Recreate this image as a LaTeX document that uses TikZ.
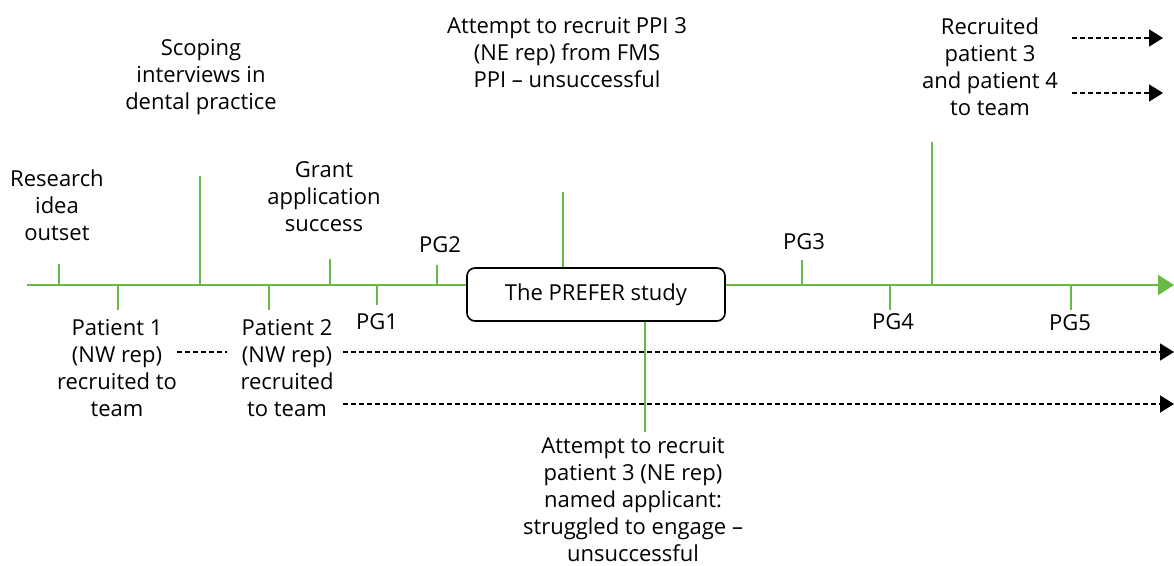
\documentclass[tikz,border=0pt]{standalone}
\usepackage{fontspec}
\setmainfont{Open Sans}
\usetikzlibrary{arrows.meta}
\definecolor{tlgreen}{RGB}{104,186,70}
\tikzset{
  lbl/.style={inner sep=0pt, align=center, font=\fontsize{22}{27}\selectfont},
  tick/.style={draw=tlgreen, line width=2pt},
  dashar/.style={draw=black, line width=1.6pt, dash pattern=on 5pt off 3pt, -{Triangle[length=14pt,width=17pt]}},
  dashln/.style={draw=black, line width=1.6pt, dash pattern=on 5pt off 3pt},
  studybox/.style={draw=black, line width=1.6pt, rounded corners=8pt, minimum width=258pt, minimum height=53pt, inner sep=0pt, fill=white, font=\fontsize{22}{27}\selectfont}
}
\begin{document}
\begin{tikzpicture}[x=1pt,y=-1pt]
\useasboundingbox (0,0) rectangle (1174,565);
% timeline
\coordinate (tlstart) at (27,285);
\coordinate (tlend) at (1174,285);
\draw[draw=tlgreen, line width=2pt, -{Triangle[length=16pt,width=20pt]}] (tlstart) -- (tlend);
% ticks
\coordinate (t1a) at (59,285); \coordinate (t1b) at (59,264);
\coordinate (t2a) at (118,285); \coordinate (t2b) at (118,310);
\coordinate (t3a) at (200,285); \coordinate (t3b) at (200,176);
\coordinate (t4a) at (269,285); \coordinate (t4b) at (269,310);
\coordinate (t5a) at (330,285); \coordinate (t5b) at (330,259);
\coordinate (t6a) at (377,285); \coordinate (t6b) at (377,305);
\coordinate (t7a) at (437,285); \coordinate (t7b) at (437,265);
\coordinate (t9a) at (802,285); \coordinate (t9b) at (802,260);
\coordinate (t10a) at (890,285); \coordinate (t10b) at (890,310);
\coordinate (t11a) at (932,285); \coordinate (t11b) at (932,142);
\coordinate (t12a) at (1071,285); \coordinate (t12b) at (1071,310);
\foreach \t in {1,2,3,4,5,6,7,9,10,11,12} {\draw[tick] (t\t a) -- (t\t b);}
% study box
\node[studybox] (study) at (596,294.5) {The PREFER study};
\coordinate (su) at (563,192);
\coordinate (sd) at (645,432);
\draw[tick] (study.north -| su) -- (su);
\draw[tick] (study.south -| sd) -- (sd);
% labels
\node[lbl] (research) at (57,205) {Research\\idea\\outset};
\node[lbl] (scoping) at (201,77) {Scoping\\interviews in\\dental practice};
\node[lbl] (grant) at (324,197) {Grant\\application\\success};
\node[lbl] (pg1) at (377,322) {PG1};
\node[lbl] (pg2) at (440,245) {PG2};
\node[lbl] (pg3) at (804,242) {PG3};
\node[lbl] (pg4) at (893,322) {PG4};
\node[lbl] (pg5) at (1070,323) {PG5};
\node[lbl] (ppi) at (567,53) {Attempt to recruit PPI 3\\(NE rep) from FMS\\PPI -- unsuccessful};
\node[lbl] (rec34) at (990,66.5) {Recruited\\patient 3\\and patient 4\\to team};
\node[lbl] (p1) at (117,368.5) {Patient 1\\(NW rep)\\recruited to\\team};
\node[lbl] (p2) at (287,368.5) {Patient 2\\(NW rep)\\recruited\\to team};
\node[lbl] (np3) at (633,500) {Attempt to recruit\\patient 3 (NE rep)\\named applicant:\\struggled to engage --\\unsuccessful};
% dashed continuation arrows
\coordinate (e1) at (1174,352);
\coordinate (e2) at (1174,404);
\coordinate (e3) at (1163,38);
\coordinate (e4) at (1163,93);
\coordinate (s1) at (177,352);
\coordinate (s1b) at (227,352);
\coordinate (s2) at (343,352);
\coordinate (s3) at (343,404);
\coordinate (s4) at (1072,38);
\coordinate (s5) at (1072,93);
\draw[dashln] (s1) -- (s1b);
\draw[dashar] (s2) -- (e1);
\draw[dashar] (s3) -- (e2);
\draw[dashar] (s4) -- (e3);
\draw[dashar] (s5) -- (e4);
\end{tikzpicture}
\end{document}
